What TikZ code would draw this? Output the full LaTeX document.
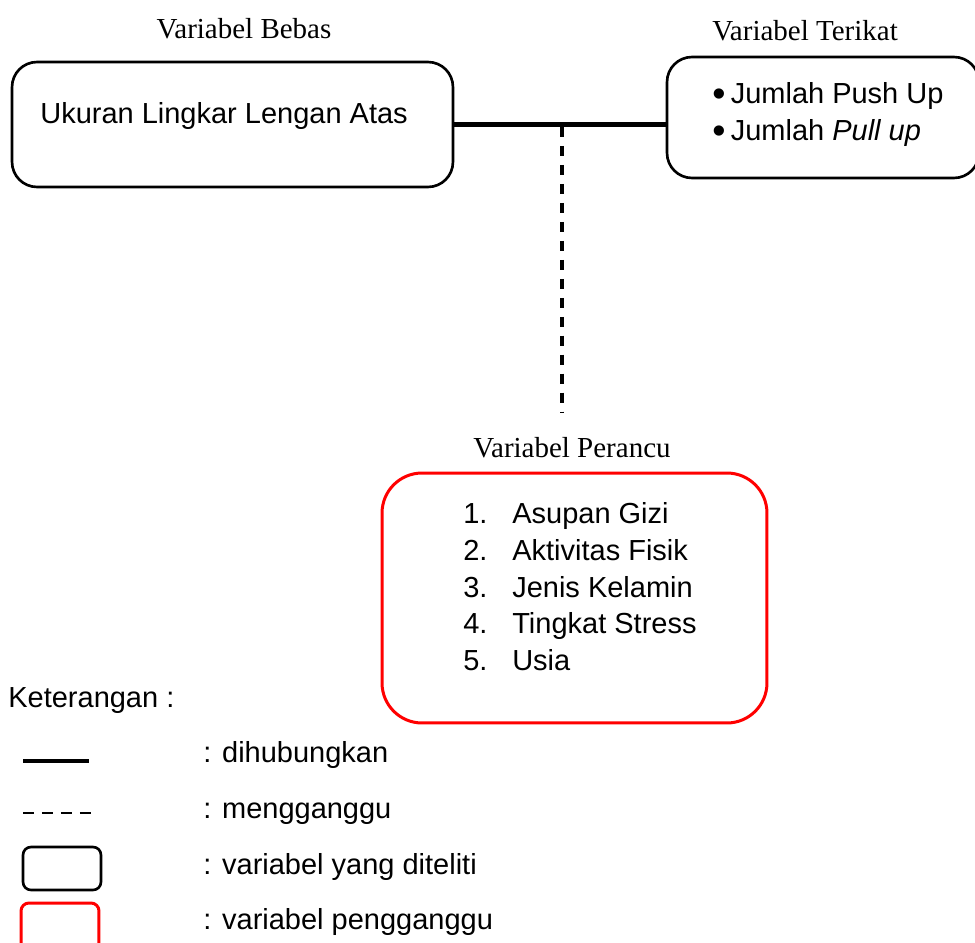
\documentclass[tikz,border=0pt]{standalone}
\usepackage{fontspec}
\setmainfont{Liberation Serif}
\newfontfamily\sansarial{Liberation Sans}
\usetikzlibrary{positioning}
\definecolor{PerancuRed}{RGB}{255,0,0}
\newcommand{\butir}{\raisebox{-0.25ex}{\scalebox{1.3}{\textbullet}}\hspace{3pt}}
\tikzset{
  judul/.style={font=\fontsize{16.5}{20}\selectfont, anchor=base, inner sep=0pt},
  isi/.style={font=\sansarial\fontsize{16.5}{20}\selectfont, anchor=base west, inner sep=0pt},
  varbox/.style={draw=black, line width=1.5pt, rounded corners=0.5cm, inner sep=0pt},
  redbox/.style={varbox, draw=PerancuRed, line width=1.7pt},
  hubung/.style={line width=2.6pt},
  ganggu/.style={line width=1.9pt, dash pattern=on 5.7pt off 5.1pt}
}

\begin{document}
\begin{tikzpicture}[x=0.02cm, y=-0.02cm]
        \useasboundingbox (0,0) rectangle (975,943);
        \clip (0,0) rectangle (975,943);
        \node[judul] (lblBebas) at (244,38) {Variabel Bebas};
        \node[judul] (lblTerikat) at (805,40) {Variabel Terikat};
        \node[judul] (lblPerancu) at (572,457) {Variabel Perancu};
        \node[varbox, minimum width=8.82cm, minimum height=2.5cm] (bebas) at (232.5,124.5) {};
        \node[varbox, minimum width=6.24cm, minimum height=2.42cm] (terikat) at (823,117.5) {};
        \node[redbox, rounded corners=0.8cm, minimum width=7.7cm, minimum height=5cm] (perancu) at (574.5,598) {};
        \node[isi] (tBebas) at (40,123) {Ukuran Lingkar Lengan Atas};
        \node[isi] (tPush) at (712,103) {\butir Jumlah Push Up};
        \node[isi] (tPull) at (712,140) {\butir Jumlah \textit{Pull up}};
        \node[isi] (p1) at (463,523) {\makebox[0.98cm][l]{1.}Asupan Gizi};
        \node[isi] (p2) at (463,560) {\makebox[0.98cm][l]{2.}Aktivitas Fisik};
        \node[isi] (p3) at (463,597) {\makebox[0.98cm][l]{3.}Jenis Kelamin};
        \node[isi] (p4) at (463,633) {\makebox[0.98cm][l]{4.}Tingkat Stress};
        \node[isi] (p5) at (463,670) {\makebox[0.98cm][l]{5.}Usia};
        \draw[hubung] (bebas.east) -- (bebas.east -| terikat.west);
        \coordinate (cabang) at (562,127);
        \coordinate (ujung) at (562,413);
        \draw[ganggu] (cabang) -- (ujung);
        % keterangan
        \node[isi] (ket) at (8,707) {Keterangan :};
        \draw[hubung] (23,761) -- (89,761);
        \draw[line width=1.4pt, dash pattern=on 6.2pt off 4.6pt] (23,813) -- (91,813);
        \node[varbox, rounded corners=0.16cm, minimum width=1.56cm, minimum height=0.86cm] (kotakHitam) at (62,868.5) {};
        \node[redbox, rounded corners=0.16cm, minimum width=1.56cm, minimum height=0.94cm] (kotakMerah) at (60,926.5) {};
        \node[isi] (k1) at (203,762) {: dihubungkan};
        \node[isi] (k2) at (203,818) {: mengganggu};
        \node[isi] (k3) at (203,874) {: variabel yang diteliti};
        \node[isi] (k4) at (203,929) {: variabel pengganggu};
      \end{tikzpicture}
\end{document}
